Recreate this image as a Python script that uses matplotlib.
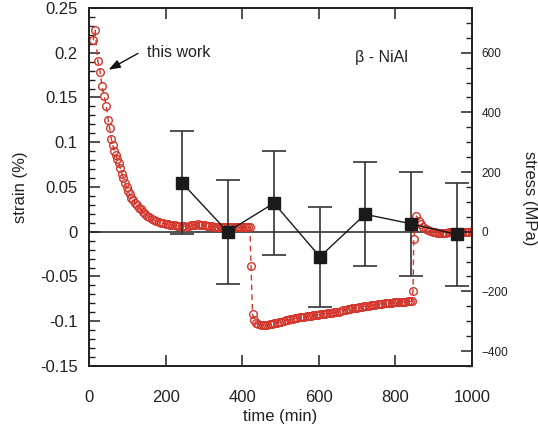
import matplotlib
matplotlib.use("Agg")
import matplotlib.pyplot as plt
from matplotlib.ticker import MultipleLocator

# ---------------- data ----------------
# red open circles: measured strain vs time
red_time = [11, 16, 23, 29, 34, 39, 45, 50, 54, 58, 62, 66, 70, 74, 78, 82, 86, 90, 94, 98,
            102, 106, 110, 115, 120, 125, 130, 135, 140, 146, 152, 158, 164, 170, 176, 182,
            188, 194, 200, 206, 212, 218, 224, 230, 236, 242, 248, 254, 260, 266, 272, 278,
            284, 290, 296, 302, 308, 314, 320, 326, 332, 338, 344, 350, 356, 362, 368, 374,
            380, 386, 392, 398, 404, 410, 416, 420,
            423, 427,
            432, 437, 442, 448, 454, 460, 466, 472, 478, 484, 490, 496, 502, 508, 514, 520,
            526, 532, 538, 544, 550, 556, 562, 568, 574, 580, 586, 592, 598, 604, 610, 616,
            622, 628, 634, 640, 646, 652, 658, 664, 670, 676, 682, 688, 694, 700, 706, 712,
            718, 724, 730, 736, 742, 748, 754, 760, 766, 772, 778, 784, 790, 796, 802, 808,
            814, 820, 826, 832, 838, 843,
            846, 848,
            855, 861, 867, 873, 879, 885, 891, 897, 903, 909, 915, 921, 927, 933, 939, 945,
            951, 957, 963, 969, 975, 981, 987, 993, 999, 1002]
red_strain = [0.214, 0.225, 0.191, 0.179, 0.163, 0.152, 0.141, 0.125, 0.116, 0.104, 0.097,
              0.090, 0.086, 0.081, 0.077, 0.071, 0.065, 0.060, 0.055, 0.050, 0.046, 0.042,
              0.038, 0.035, 0.032, 0.030, 0.027, 0.025, 0.022, 0.020, 0.018, 0.016, 0.014,
              0.013, 0.012, 0.011, 0.010, 0.0095, 0.009, 0.0085, 0.008, 0.0075, 0.007,
              0.0068, 0.0065, 0.0063, 0.006, 0.0058, 0.0062, 0.007, 0.0076, 0.008, 0.0082,
              0.008, 0.0075, 0.007, 0.0066, 0.0063, 0.006, 0.0058, 0.0057, 0.0055, 0.0054,
              0.0053, 0.0052, 0.0052, 0.0053, 0.0054, 0.0055, 0.0056, 0.0057, 0.0058, 0.0058,
              0.0057, 0.0056, 0.0055,
              -0.038, -0.092,
              -0.0985, -0.1015, -0.103, -0.104, -0.1045, -0.1045, -0.104, -0.1035, -0.103,
              -0.1025, -0.1015, -0.101, -0.1003, -0.0995, -0.099, -0.0983, -0.0977, -0.0972,
              -0.0967, -0.0962, -0.0957, -0.0952, -0.0948, -0.0944, -0.0941, -0.0938, -0.0935,
              -0.0932, -0.0928, -0.0924, -0.092, -0.0915, -0.0912, -0.0908, -0.0904, -0.0902,
              -0.0896, -0.0892, -0.0886, -0.0878, -0.0872, -0.0866, -0.086, -0.0856, -0.0852,
              -0.0848, -0.0843, -0.0838, -0.0833, -0.0829, -0.0825, -0.0821, -0.0817, -0.0813,
              -0.081, -0.0806, -0.0803, -0.080, -0.0798, -0.0795, -0.0793, -0.079, -0.0788,
              -0.0786, -0.0784, -0.0782, -0.078, -0.0778, -0.0776, -0.0775,
              -0.066, -0.0085,
              0.0175, 0.0125, 0.0085, 0.0055, 0.0035, 0.002, 0.001, 0.0, -0.0005, -0.001,
              -0.0012, -0.0013, -0.0012, -0.001, -0.0008, -0.0006, -0.0005, -0.0004, -0.0003,
              -0.0002, -0.0002, -0.0001, 0.0, 0.0, 0.0005, 0.001]

# black squares with error bars
sq_time = [242, 362, 483, 603, 721, 840, 960]
sq_strain = [0.055, 0.0, 0.032, -0.028, 0.0195, 0.009, -0.003]
sq_err = [0.058, 0.058, 0.058, 0.056, 0.058, 0.058, 0.058]

x_ticks = [0, 200, 400, 600, 800, 1000]
y_ticks = [-0.15, -0.1, -0.05, 0, 0.05, 0.1, 0.15, 0.2, 0.25]
y_labels = ["-0.15", "-0.1", "-0.05", "0", "0.05", "0.1", "0.15", "0.2", "0.25"]
y2_ticks = [-400, -200, 0, 200, 400, 600]

# ---------------- style ----------------
plt.rcParams['font.family'] = ['Liberation Sans', 'DejaVu Sans']
txt = '#222222'
red = '#d3352b'

fig = plt.figure(figsize=(5.38, 4.34), dpi=100)
ax = fig.add_axes([0.1654, 0.1567, 0.7119, 0.8249])

ax.axhline(0, color='#333333', lw=1.2, zorder=1)

ax.plot(red_time, red_strain, linestyle=(0, (4, 3)), color=red, lw=1.0,
        marker='o', markersize=5.5, markerfacecolor='none', markeredgecolor=red,
        markeredgewidth=1.0, zorder=3)

ax.errorbar(sq_time, sq_strain, yerr=sq_err, fmt='none', ecolor='#333333',
            elinewidth=1.2, capsize=8.5, capthick=1.2, zorder=4)
ax.plot(sq_time, sq_strain, color='#1a1a1a', lw=1.0, marker='s', markersize=8,
        markerfacecolor='#1a1a1a', markeredgecolor='#1a1a1a', zorder=5)

ax.set_xlim(0, 1000)
ax.set_ylim(-0.15, 0.25)
ax.set_xticks(x_ticks)
ax.set_yticks(y_ticks)
ax.set_yticklabels(y_labels)
ax.yaxis.set_minor_locator(MultipleLocator(0.01))

ax.tick_params(axis='both', which='major', direction='in', length=8, width=1.1,
               labelsize=12, colors='#222222', labelcolor=txt)
ax.tick_params(axis='y', which='minor', direction='in', length=4.5, width=1.0,
               colors='#222222')
ax.tick_params(axis='x', which='major', top=True, pad=17)
ax.tick_params(axis='y', which='major', pad=8)

for s in ax.spines.values():
    s.set_linewidth(1.3)
    s.set_color('#222222')

ax.set_xlabel('time (min)', fontsize=12, color=txt, labelpad=3)
ax.set_ylabel('strain (%)', fontsize=12, color=txt, labelpad=9)

ax2 = ax.twinx()
ax2.set_ylim(-450, 750)
ax2.set_yticks(y2_ticks)
ax2.yaxis.set_minor_locator(MultipleLocator(50))
ax2.tick_params(axis='y', which='major', direction='in', length=8, width=1.1,
                labelsize=8.5, colors='#222222', labelcolor=txt, pad=7)
ax2.tick_params(axis='y', which='minor', direction='in', length=4.5, width=1.0,
                colors='#222222')
for s in ax2.spines.values():
    s.set_linewidth(1.3)
    s.set_color('#222222')
ax2.set_ylabel('stress (MPa)', fontsize=12, color=txt, rotation=270, va='center')
ax2.yaxis.set_label_coords(1.151, 0.469)

ax.text(151, 0.2008, 'this work', fontsize=11.5, color=txt, va='center', ha='left')
ax.annotate('', xy=(51, 0.181), xytext=(128, 0.1993),
            arrowprops=dict(arrowstyle='-|>,head_length=0.7,head_width=0.25',
                            color='#111111', lw=1.0, shrinkA=0, shrinkB=0))
ax.text(694, 0.195, 'β - NiAl', fontsize=11.5, color=txt, va='center', ha='left')

fig.savefig('out.png', dpi=100)
